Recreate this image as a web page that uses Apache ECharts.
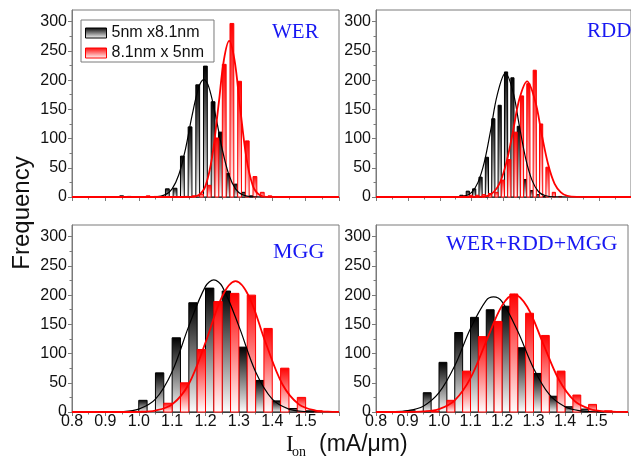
<!DOCTYPE html>
<html>
<head>
<meta charset="utf-8">
<script src="https://cdn.jsdelivr.net/npm/echarts@6/dist/echarts.min.js"></script>
<style>
  html, body { margin: 0; padding: 0; background: #fff; }
  #chart { width: 631px; height: 457px; }
</style>
</head>
<body>
<div id="chart"></div>
<script>
// Ion histograms for two fin geometries under different variability sources.
// Each bin holds two half-width bars: 5nm x 8.1nm (black) then 8.1nm x 5nm (red).

const seriesNames = ['5nm x8.1nm', '8.1nm x 5nm'];
const panelLabels = ['WER', 'RDD', 'MGG', 'WER+RDD+MGG'];
const xTickLabels = ['0.8', '0.9', '1.0', '1.1', '1.2', '1.3', '1.4', '1.5'];
const yTickValues = [0, 50, 100, 150, 200, 250, 300];
const yMinorValues = [25, 75, 125, 175, 225, 275];

// WER
const werBinWidth = 0.0228;
const werBins = [0.943, 0.966, 0.989, 1.011, 1.034, 1.057, 1.080, 1.103, 1.125, 1.148, 1.171,
                 1.194, 1.217, 1.239, 1.262, 1.285, 1.308, 1.331, 1.353, 1.376, 1.399];
const werWide = [2, 1, 0, 0, 0, 0, 14, 15, 70, 120, 192, 224, 163, 111, 40, 22, 8, 2, 0, 0, 0];
const werTall = [0, 0, 0, 2, 1, 0, 0, 0, 1, 2, 5, 20, 101, 227, 297, 198, 96, 35, 8, 2, 0];
const werWideFit = [[0.8, 0], [1.0, 0], [1.05, 0.4], [1.08, 4], [1.1, 14], [1.12, 38], [1.14, 82], [1.16, 140],
                    [1.18, 188], [1.195, 201], [1.21, 188], [1.23, 140], [1.25, 82], [1.27, 38], [1.29, 14],
                    [1.31, 4], [1.34, 0.4], [1.4, 0], [1.6, 0]];
const werTallFit = [[0.8, 0], [1.1, 0], [1.15, 0.1], [1.18, 3.6], [1.2, 19], [1.22, 69], [1.24, 162], [1.255, 234],
                    [1.271, 267], [1.287, 234], [1.302, 162], [1.322, 69], [1.342, 19], [1.362, 3.6],
                    [1.392, 0.1], [1.45, 0], [1.6, 0]];

// RDD
const rddBinWidth = 0.02;
const rddBins = [1.063, 1.083, 1.103, 1.123, 1.143, 1.163, 1.183, 1.203, 1.223, 1.243, 1.263, 1.283,
                 1.303, 1.323, 1.343, 1.363];
const rddWide = [3, 10, 14, 34, 68, 134, 157, 214, 204, 121, 30, 11, 4, 1, 0, 0];
const rddTall = [2, 3, 3, 4, 6, 8, 29, 64, 111, 173, 194, 217, 125, 51, 8, 1];
const rddWideFit = [[0.8, 0], [1.0, 0], [1.05, 0.2], [1.08, 2], [1.1, 8], [1.12, 25], [1.14, 60], [1.16, 115],
                    [1.18, 174], [1.206, 212], [1.23, 180], [1.25, 121], [1.27, 65], [1.29, 28], [1.31, 9],
                    [1.33, 2.5], [1.36, 0.2], [1.4, 0], [1.6, 0]];
const rddTallFit = [[0.8, 0], [1.08, 0], [1.12, 0.2], [1.15, 2], [1.17, 9], [1.19, 26], [1.21, 61], [1.23, 113],
                    [1.25, 168], [1.274, 198], [1.3, 163], [1.32, 107], [1.34, 56], [1.36, 23], [1.38, 8],
                    [1.4, 2], [1.43, 0.2], [1.48, 0], [1.6, 0]];

// MGG
const mggBinWidth = 0.05;
const mggBins = [1.0, 1.05, 1.1, 1.15, 1.2, 1.25, 1.3, 1.35, 1.4, 1.45, 1.5];
const mggWide = [20, 67, 127, 187, 212, 207, 111, 54, 19, 6, 2];
const mggTall = [0, 15, 50, 107, 189, 203, 200, 143, 75, 25, 2];
const mggWideFit = [[0.8, 0], [0.85, 0], [0.9, 0.1], [0.95, 0.7], [1.0, 5], [1.05, 22], [1.1, 69], [1.15, 147],
                    [1.2, 215], [1.225, 226], [1.25, 215], [1.3, 147], [1.35, 69], [1.4, 22], [1.45, 5],
                    [1.5, 0.7], [1.55, 0.1], [1.6, 0]];
const mggTallFit = [[0.8, 0], [0.95, 0], [1.0, 0.3], [1.05, 2.5], [1.1, 13], [1.15, 48], [1.2, 119], [1.25, 198],
                    [1.29, 224], [1.33, 198], [1.38, 119], [1.43, 48], [1.48, 13], [1.53, 2.5], [1.58, 0.3],
                    [1.6, 0.1]];

// WER+RDD+MGG
const allBinWidth = 0.05;
const allBins = [0.9, 0.95, 1.0, 1.05, 1.1, 1.15, 1.2, 1.25, 1.3, 1.35, 1.4, 1.45, 1.5];
const allWide = [2, 33, 85, 136, 162, 175, 181, 110, 66, 27, 9, 5, 1];
const allTall = [0, 1, 20, 70, 129, 155, 202, 169, 131, 70, 29, 13, 2];
const allWideFit = [[0.8, 0.05], [0.85, 0.4], [0.9, 2.3], [0.95, 10], [1.0, 33], [1.05, 79], [1.1, 143],
                    [1.15, 191], [1.173, 197], [1.2, 189], [1.25, 138], [1.3, 75], [1.35, 30], [1.4, 9],
                    [1.45, 2], [1.5, 0.3], [1.55, 0], [1.6, 0]];
const allTallFit = [[0.8, 0], [0.85, 0], [0.9, 0.1], [0.95, 1], [1.0, 5], [1.05, 20], [1.1, 58], [1.15, 121],
                    [1.2, 182], [1.239, 201], [1.28, 180], [1.33, 118], [1.38, 56], [1.43, 19], [1.48, 5],
                    [1.53, 0.9], [1.58, 0.1], [1.6, 0]];

// ---- styling ----
const SANS = '"Liberation Sans", Arial, sans-serif';
const SERIF = '"Liberation Serif", "Times New Roman", serif';
const FRAME = '#7a7a7a';
const INK = '#111111';
const BLUE = '#1818f2';
const RED = '#ff0000';

function fade(top) {
  return new echarts.graphic.LinearGradient(0, 0, 0, 1, [
    { offset: 0, color: top },
    { offset: 1, color: '#ffffff' }
  ]);
}

// half-bin rectangles: first half for the wide fin, second half for the tall fin
function halfBins(bins, width, counts, second) {
  return bins.map((left, i) => {
    const x0 = left + (second ? width / 2 : 0);
    return [x0, x0 + width / 2, counts[i]];
  });
}

function barRenderer(top, edge) {
  return function (params, api) {
    const v = api.value(2);
    if (!v) return null;
    const p0 = api.coord([api.value(0), v]);
    const p1 = api.coord([api.value(1), 0]);
    return {
      type: 'rect',
      shape: { x: p0[0], y: p0[1], width: p1[0] - p0[0], height: p1[1] - p0[1] },
      style: { fill: fade(top), stroke: edge, lineWidth: 1 }
    };
  };
}

const grids = [
  { left: 72, top: 10, width: 267, height: 187 },
  { left: 376, top: 10, width: 267, height: 187 },
  { left: 72, top: 225, width: 267, height: 187 },
  { left: 376, top: 225, width: 267, height: 187 }
].map(g => Object.assign(g, { show: true, borderColor: FRAME, borderWidth: 1, backgroundColor: 'transparent' }));

const xAxes = grids.map((g, i) => ({
  gridIndex: i,
  type: 'value',
  min: 0.8,
  max: 1.6,
  interval: 0.1,
  axisLine: { show: true, onZero: false, lineStyle: { color: FRAME, width: 1 } },
  axisTick: { show: true, inside: false, length: 4, lineStyle: { color: FRAME } },
  minorTick: { show: true, splitNumber: 2, length: 2.5, lineStyle: { color: FRAME } },
  splitLine: { show: false },
  axisLabel: {
    show: i >= 2,
    margin: 2,
    fontSize: 16,
    fontFamily: SANS,
    color: INK,
    formatter: v => {
      const s = v.toFixed(1);
      return xTickLabels.indexOf(s) >= 0 ? s : '';
    }
  }
}));

const yAxes = [];
grids.forEach((g, i) => {
  yAxes.push({
    gridIndex: i,
    type: 'value',
    position: 'left',
    min: 0,
    max: 320,
    axisLine: { show: true, lineStyle: { color: FRAME, width: 1 } },
    axisTick: { show: true, inside: false, length: 4, customValues: yTickValues, lineStyle: { color: FRAME } },
    axisLabel: { margin: 5, fontSize: 16, fontFamily: SANS, color: INK, customValues: yTickValues },
    splitLine: { show: false }
  });
});
grids.forEach((g, i) => {
  yAxes.push({
    gridIndex: i,
    type: 'value',
    position: 'left',
    offset: 0,
    min: 0,
    max: 320,
    axisLine: { show: false },
    axisTick: { show: true, inside: false, length: 2.5, customValues: yMinorValues, lineStyle: { color: FRAME } },
    axisLabel: { show: false },
    splitLine: { show: false }
  });
});

const panels = [
  { bins: werBins, w: werBinWidth, wide: werWide, tall: werTall, wideFit: werWideFit, tallFit: werTallFit },
  { bins: rddBins, w: rddBinWidth, wide: rddWide, tall: rddTall, wideFit: rddWideFit, tallFit: rddTallFit },
  { bins: mggBins, w: mggBinWidth, wide: mggWide, tall: mggTall, wideFit: mggWideFit, tallFit: mggTallFit },
  { bins: allBins, w: allBinWidth, wide: allWide, tall: allTall, wideFit: allWideFit, tallFit: allTallFit }
];

const series = [];
panels.forEach((p, i) => {
  series.push({
    name: seriesNames[0], type: 'custom', xAxisIndex: i, yAxisIndex: i, z: 2,
    renderItem: barRenderer('#000000', '#000000'),
    encode: { x: [0, 1], y: 2 },
    data: halfBins(p.bins, p.w, p.wide, false)
  });
  series.push({
    name: seriesNames[1], type: 'custom', xAxisIndex: i, yAxisIndex: i, z: 2,
    renderItem: barRenderer(RED, RED),
    encode: { x: [0, 1], y: 2 },
    data: halfBins(p.bins, p.w, p.tall, true)
  });
  series.push({
    name: 'fit ' + seriesNames[0] + ' ' + panelLabels[i], type: 'line', xAxisIndex: i, yAxisIndex: i, z: 4,
    data: p.wideFit, smooth: 0.35, showSymbol: false, silent: true,
    lineStyle: { color: '#000000', width: 1.2 }
  });
  series.push({
    name: 'fit ' + seriesNames[1] + ' ' + panelLabels[i], type: 'line', xAxisIndex: i, yAxisIndex: i, z: 5,
    data: p.tallFit, smooth: 0.35, showSymbol: false, silent: true,
    lineStyle: { color: RED, width: 1.8 }
  });
});

const labelStyle = size => ({ color: BLUE, fontFamily: SERIF, fontSize: size, fontWeight: 'normal' });

const option = {
  animation: false,
  backgroundColor: '#ffffff',
  grid: grids,
  xAxis: xAxes,
  yAxis: yAxes,
  title: [
    { text: panelLabels[0], left: 272, top: 22, padding: 0, textStyle: labelStyle(21) },
    { text: panelLabels[1], left: 587, top: 21, padding: 0, textStyle: labelStyle(21) },
    { text: panelLabels[2], left: 273, top: 241, padding: 0, textStyle: labelStyle(22) },
    { text: panelLabels[3], left: 446, top: 233, padding: 0, textStyle: labelStyle(22) }
  ],
  legend: {
    data: [
      { name: seriesNames[0], icon: 'rect',
        itemStyle: { color: fade('#000000'), borderColor: '#000000', borderWidth: 1 } },
      { name: seriesNames[1], icon: 'rect',
        itemStyle: { color: fade(RED), borderColor: RED, borderWidth: 1 } }
    ],
    orient: 'vertical',
    left: 81,
    top: 20,
    padding: [5, 10, 1, 4],
    itemWidth: 21,
    itemHeight: 10,
    itemGap: 4,
    selectedMode: false,
    backgroundColor: '#ffffff',
    borderColor: FRAME,
    borderWidth: 1,
    textStyle: { fontSize: 16, fontFamily: SANS, color: INK, lineHeight: 16 }
  },
  graphic: [
    { type: 'text', x: 22, y: 213, rotation: Math.PI / 2,
      style: { text: 'Frequency', fontSize: 24, fontFamily: SANS, fill: INK, align: 'center', verticalAlign: 'middle' } },
    { type: 'text', x: 286, y: 445,
      style: { text: 'I', fontSize: 23, fontFamily: SERIF, fill: INK, align: 'left', verticalAlign: 'middle' } },
    { type: 'text', x: 292, y: 452,
      style: { text: 'on', fontSize: 14, fontFamily: SERIF, fill: INK, align: 'left', verticalAlign: 'middle' } },
    { type: 'text', x: 319, y: 445,
      style: { text: '(mA/\u03bcm)', fontSize: 23, fontFamily: SANS, fill: INK, align: 'left', verticalAlign: 'middle' } }
  ],
  series: series
};

const chart = echarts.init(document.getElementById('chart'), null, { renderer: 'canvas' });
chart.setOption(option);
</script>
</body>
</html>
